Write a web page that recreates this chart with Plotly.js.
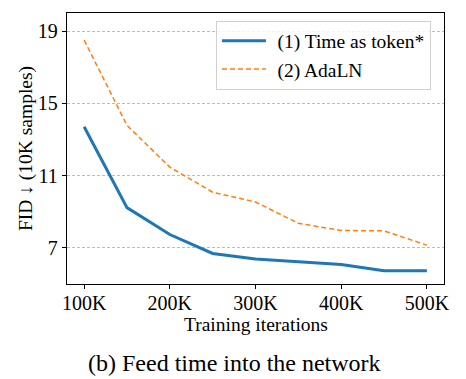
<!DOCTYPE html>
<html>
<head>
<meta charset="utf-8">
<script src="https://cdn.plot.ly/plotly-3.0.1.min.js"></script>
<style>html,body{margin:0;padding:0;background:#fff;}#chart{width:466px;height:379px;}</style>
</head>
<body>
<div id="chart"></div>
<script>
const iterations = [100000, 150000, 200000, 250000, 300000, 350000, 400000, 450000, 500000];
const timeAsToken = [13.7, 9.23, 7.74, 6.69, 6.39, 6.23, 6.08, 5.73, 5.73];
const adaLN = [18.5, 13.78, 11.47, 10.08, 9.54, 8.36, 7.96, 7.94, 7.15];
const xTickVals = [100000, 200000, 300000, 400000, 500000];
const xTickText = ['100K', '200K', '300K', '400K', '500K'];
const yTickVals = [7, 11, 15, 19];
const seriesNames = ['(1) Time as token*', '(2) AdaLN'];

const FAMILY = 'Liberation Serif, Times New Roman, serif';
const tickFont = {family: FAMILY, size: 20, color: '#000'};
const titleFont = {family: FAMILY, size: 19.5, color: '#000'};
const legendFont = {family: FAMILY, size: 19.5, color: '#000'};

const traces = [
  {x: iterations, y: timeAsToken, name: '\u2004' + seriesNames[0], mode: 'lines', type: 'scatter',
   line: {color: '#1f77b4', width: 3}},
  {x: iterations, y: adaLN, name: '\u2004' + seriesNames[1], mode: 'lines', type: 'scatter',
   line: {color: '#ff7f0e', width: 1.5, dash: '5px,3px'}}
];

const layout = {
  width: 466, height: 379,
  margin: {l: 67, r: 22, t: 13, b: 95},
  paper_bgcolor: '#fff', plot_bgcolor: '#fff',
  font: tickFont,
  showlegend: true,
  legend: {x: 0.395, y: 0.972, xanchor: 'left', yanchor: 'top',
           bgcolor: 'rgba(255,255,255,0.8)', bordercolor: '#d0d0d0', borderwidth: 1,
           font: legendFont, tracegroupgap: 0, itemwidth: 44},
  xaxis: {range: [80000, 520000], tickvals: xTickVals, ticktext: xTickText,
          showgrid: false, zeroline: false, showline: true, linecolor: '#000', linewidth: 1.2,
          mirror: true, ticks: 'outside', ticklen: 4, tickcolor: '#000',
          ticklabelstandoff: -3,
          tickfont: tickFont},
  yaxis: {range: [5, 20], tickvals: yTickVals,
          showgrid: true, gridcolor: '#bdbdbd', griddash: '3px,2px', gridwidth: 1,
          zeroline: false, showline: true, linecolor: '#000', linewidth: 1.2,
          mirror: true, ticks: 'outside', ticklen: 4, tickcolor: '#000',
          tickfont: tickFont,
          title: {text: 'FID ↓ (10K samples)', font: titleFont, standoff: 0}},
  annotations: [
    {text: 'Training iterations', xref: 'paper', yref: 'paper',
     x: 0.5, y: -0.148, xanchor: 'center', yanchor: 'middle', showarrow: false,
     font: titleFont},
    {text: '(b) Feed time into the network', xref: 'paper', yref: 'paper',
     x: 0.444, y: -0.29, xanchor: 'center', yanchor: 'middle', showarrow: false,
     font: {family: FAMILY, size: 24, color: '#000'}}]
};

Plotly.newPlot('chart', traces, layout, {displayModeBar: false, staticPlot: true});
</script>
</body>
</html>
